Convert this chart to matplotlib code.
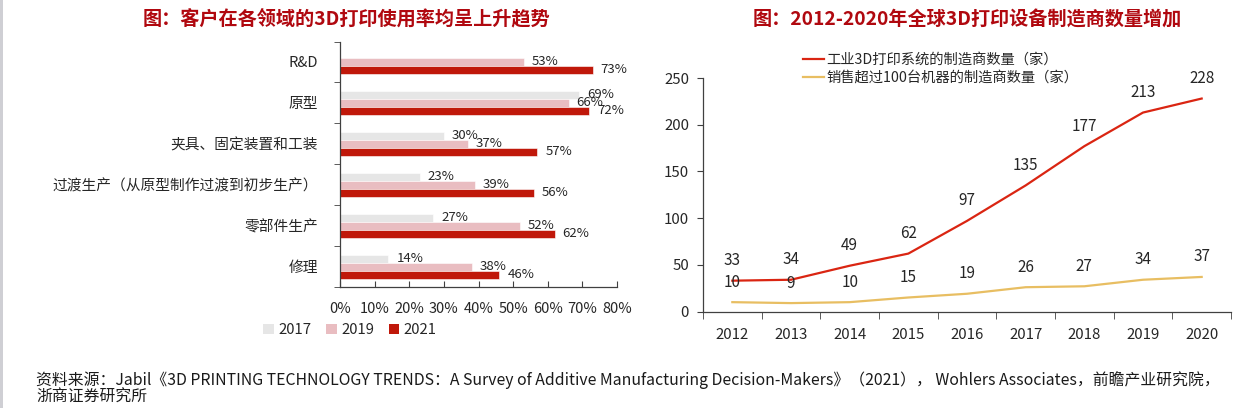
import numpy as np
import matplotlib
matplotlib.use('Agg')
import matplotlib.pyplot as plt
from matplotlib.patches import Patch, Rectangle

plt.rcParams['font.family'] = ['Noto Sans CJK SC', 'DejaVu Sans']
plt.rcParams['axes.unicode_minus'] = False

# ---- left chart data: usage rate by field
fields    = ['R&D', '原型', '夹具、固定装置和工装', '过渡生产（从原型制作过渡到初步生产）', '零部件生产', '修理']
rate_2017 = [np.nan, 69, 30, 23, 27, 14]
rate_2019 = [53, 66, 37, 39, 52, 38]
rate_2021 = [73, 72, 57, 56, 62, 46]
bar_years = ['2017', '2019', '2021']
pct_ticks = [0, 10, 20, 30, 40, 50, 60, 70, 80]

# ---- right chart data: number of manufacturers
years      = ['2012', '2013', '2014', '2015', '2016', '2017', '2018', '2019', '2020']
industrial = [33, 34, 49, 62, 97, 135, 177, 213, 228]
over_100   = [10, 9, 10, 15, 19, 26, 27, 34, 37]
series_names = ['工业3D打印系统的制造商数量（家）', '销售超过100台机器的制造商数量（家）']

W, H = 1236, 408
fig = plt.figure(figsize=(W / 100, H / 100), dpi=100)
title_red = '#B0080F'
txt = '#262626'

def fx(px): return px / W
def fy(py): return 1 - py / H

# ================= left panel
ax1 = fig.add_axes([fx(340), fy(287), fx(617) - fx(340), fy(41.5) - fy(287)])
colors = ['#E6E6E6', '#E9BDC1', '#C0180A']
bh = 0.195
y = np.arange(len(fields))
for k, (vals, c) in enumerate(zip([rate_2017, rate_2019, rate_2021], colors)):
    pos = y + (k - 1) * bh
    ax1.barh(pos, vals, height=bh, color=c, edgecolor='white', linewidth=0.4, label=bar_years[k])
    for p, v in zip(pos, vals):
        if np.isnan(v):
            continue
        ax1.annotate(f'{v:.0f}%', (v, p), xytext=(8, 0), textcoords='offset pixels',
                     va='center', ha='left', fontsize=9.5, color=txt)

ax1.set_xlim(0, 80)
ax1.set_ylim(len(fields) - 0.5, -0.5)
ax1.set_yticks(y)
ax1.set_yticklabels(fields, fontsize=10.6, color=txt)
ax1.set_yticks(np.arange(len(fields) + 1) - 0.5, minor=True)
ax1.tick_params(axis='y', which='major', length=0, pad=16)
ax1.tick_params(axis='y', which='minor', length=4, direction='out', color='#404040')
ax1.set_xticks(pct_ticks)
ax1.set_xticklabels([f'{t}%' for t in pct_ticks], fontsize=10.5, color=txt)
ax1.tick_params(axis='x', direction='in', length=4, pad=11, color='#404040')
for s in ['top', 'right']:
    ax1.spines[s].set_visible(False)
for s in ['left', 'bottom']:
    ax1.spines[s].set_color('#404040')
    ax1.spines[s].set_linewidth(0.9)

handles = [Patch(facecolor=c, edgecolor='none') for c in colors]
fig.legend(handles, bar_years, loc='center', bbox_to_anchor=(fx(350), fy(330)), ncol=3,
           frameon=False, fontsize=10.7, handlelength=0.7, handleheight=0.7,
           handletextpad=0.3, columnspacing=1.0, labelcolor=txt)

fig.text(fx(346), fy(19), '图：客户在各领域的3D打印使用率均呈上升趋势', ha='center', va='center',
         fontsize=13.8, fontweight='bold', color=title_red)

# ================= right panel
ax2 = fig.add_axes([fx(703), fy(311.5), fx(1231) - fx(703), fy(78) - fy(311.5)])
x = np.arange(len(years))
ax2.plot(x, industrial, color='#DA2512', lw=1.6, label=series_names[0])
ax2.plot(x, over_100, color='#E8BE62', lw=1.6, label=series_names[1])
for xi, v in zip(x, industrial):
    ax2.annotate(str(v), (xi, v), xytext=(0, 20), textcoords='offset pixels',
                 ha='center', va='center', fontsize=11, color=txt)
for xi, v in zip(x, over_100):
    ax2.annotate(str(v), (xi, v), xytext=(0, 20), textcoords='offset pixels',
                 ha='center', va='center', fontsize=11, color=txt)

ax2.set_xlim(-0.5, len(years) - 0.5)
ax2.set_ylim(0, 250)
ax2.set_yticks([0, 50, 100, 150, 200, 250])
ax2.tick_params(axis='y', length=4, direction='out', labelsize=10.8, labelcolor=txt, color='#404040', pad=6)
ax2.set_xticks(x)
ax2.set_xticklabels(years, fontsize=10.8, color=txt)
ax2.set_xticks(np.arange(len(years) + 1) - 0.5, minor=True)
ax2.tick_params(axis='x', which='major', length=0, pad=12)
ax2.tick_params(axis='x', which='minor', length=5, direction='out', color='#404040')
for s in ['top', 'right']:
    ax2.spines[s].set_visible(False)
for s in ['left', 'bottom']:
    ax2.spines[s].set_color('#404040')
    ax2.spines[s].set_linewidth(0.9)

ax2.legend(loc='upper left', bbox_to_anchor=(fx(797), fy(47)), bbox_transform=fig.transFigure,
           frameon=False, fontsize=10.3, handlelength=1.5, handletextpad=0.15,
           labelspacing=0.3, labelcolor=txt, borderaxespad=0)

fig.text(fx(967), fy(19), '图：2012-2020年全球3D打印设备制造商数量增加', ha='center', va='center',
         fontsize=13.8, fontweight='bold', color=title_red)

# ================= source note
src1 = ('资料来源：Jabil《3D PRINTING TECHNOLOGY TRENDS：A Survey of Additive Manufacturing '
        'Decision-Makers》（2021）， Wohlers Associates，前瞻产业研究院，')
src2 = '浙商证券研究所'
fig.text(fx(36), fy(380), src1, ha='left', va='center', fontsize=11.4, color='#1a1a1a')
fig.text(fx(36), fy(397), src2, ha='left', va='center', fontsize=11.4, color='#1a1a1a')

# gray border on the left edge
fig.patches.append(Rectangle((0, 0), fx(3), 1, transform=fig.transFigure,
                             facecolor='#CFCFD4', edgecolor='none'))

fig.savefig('out.png', dpi=100)
